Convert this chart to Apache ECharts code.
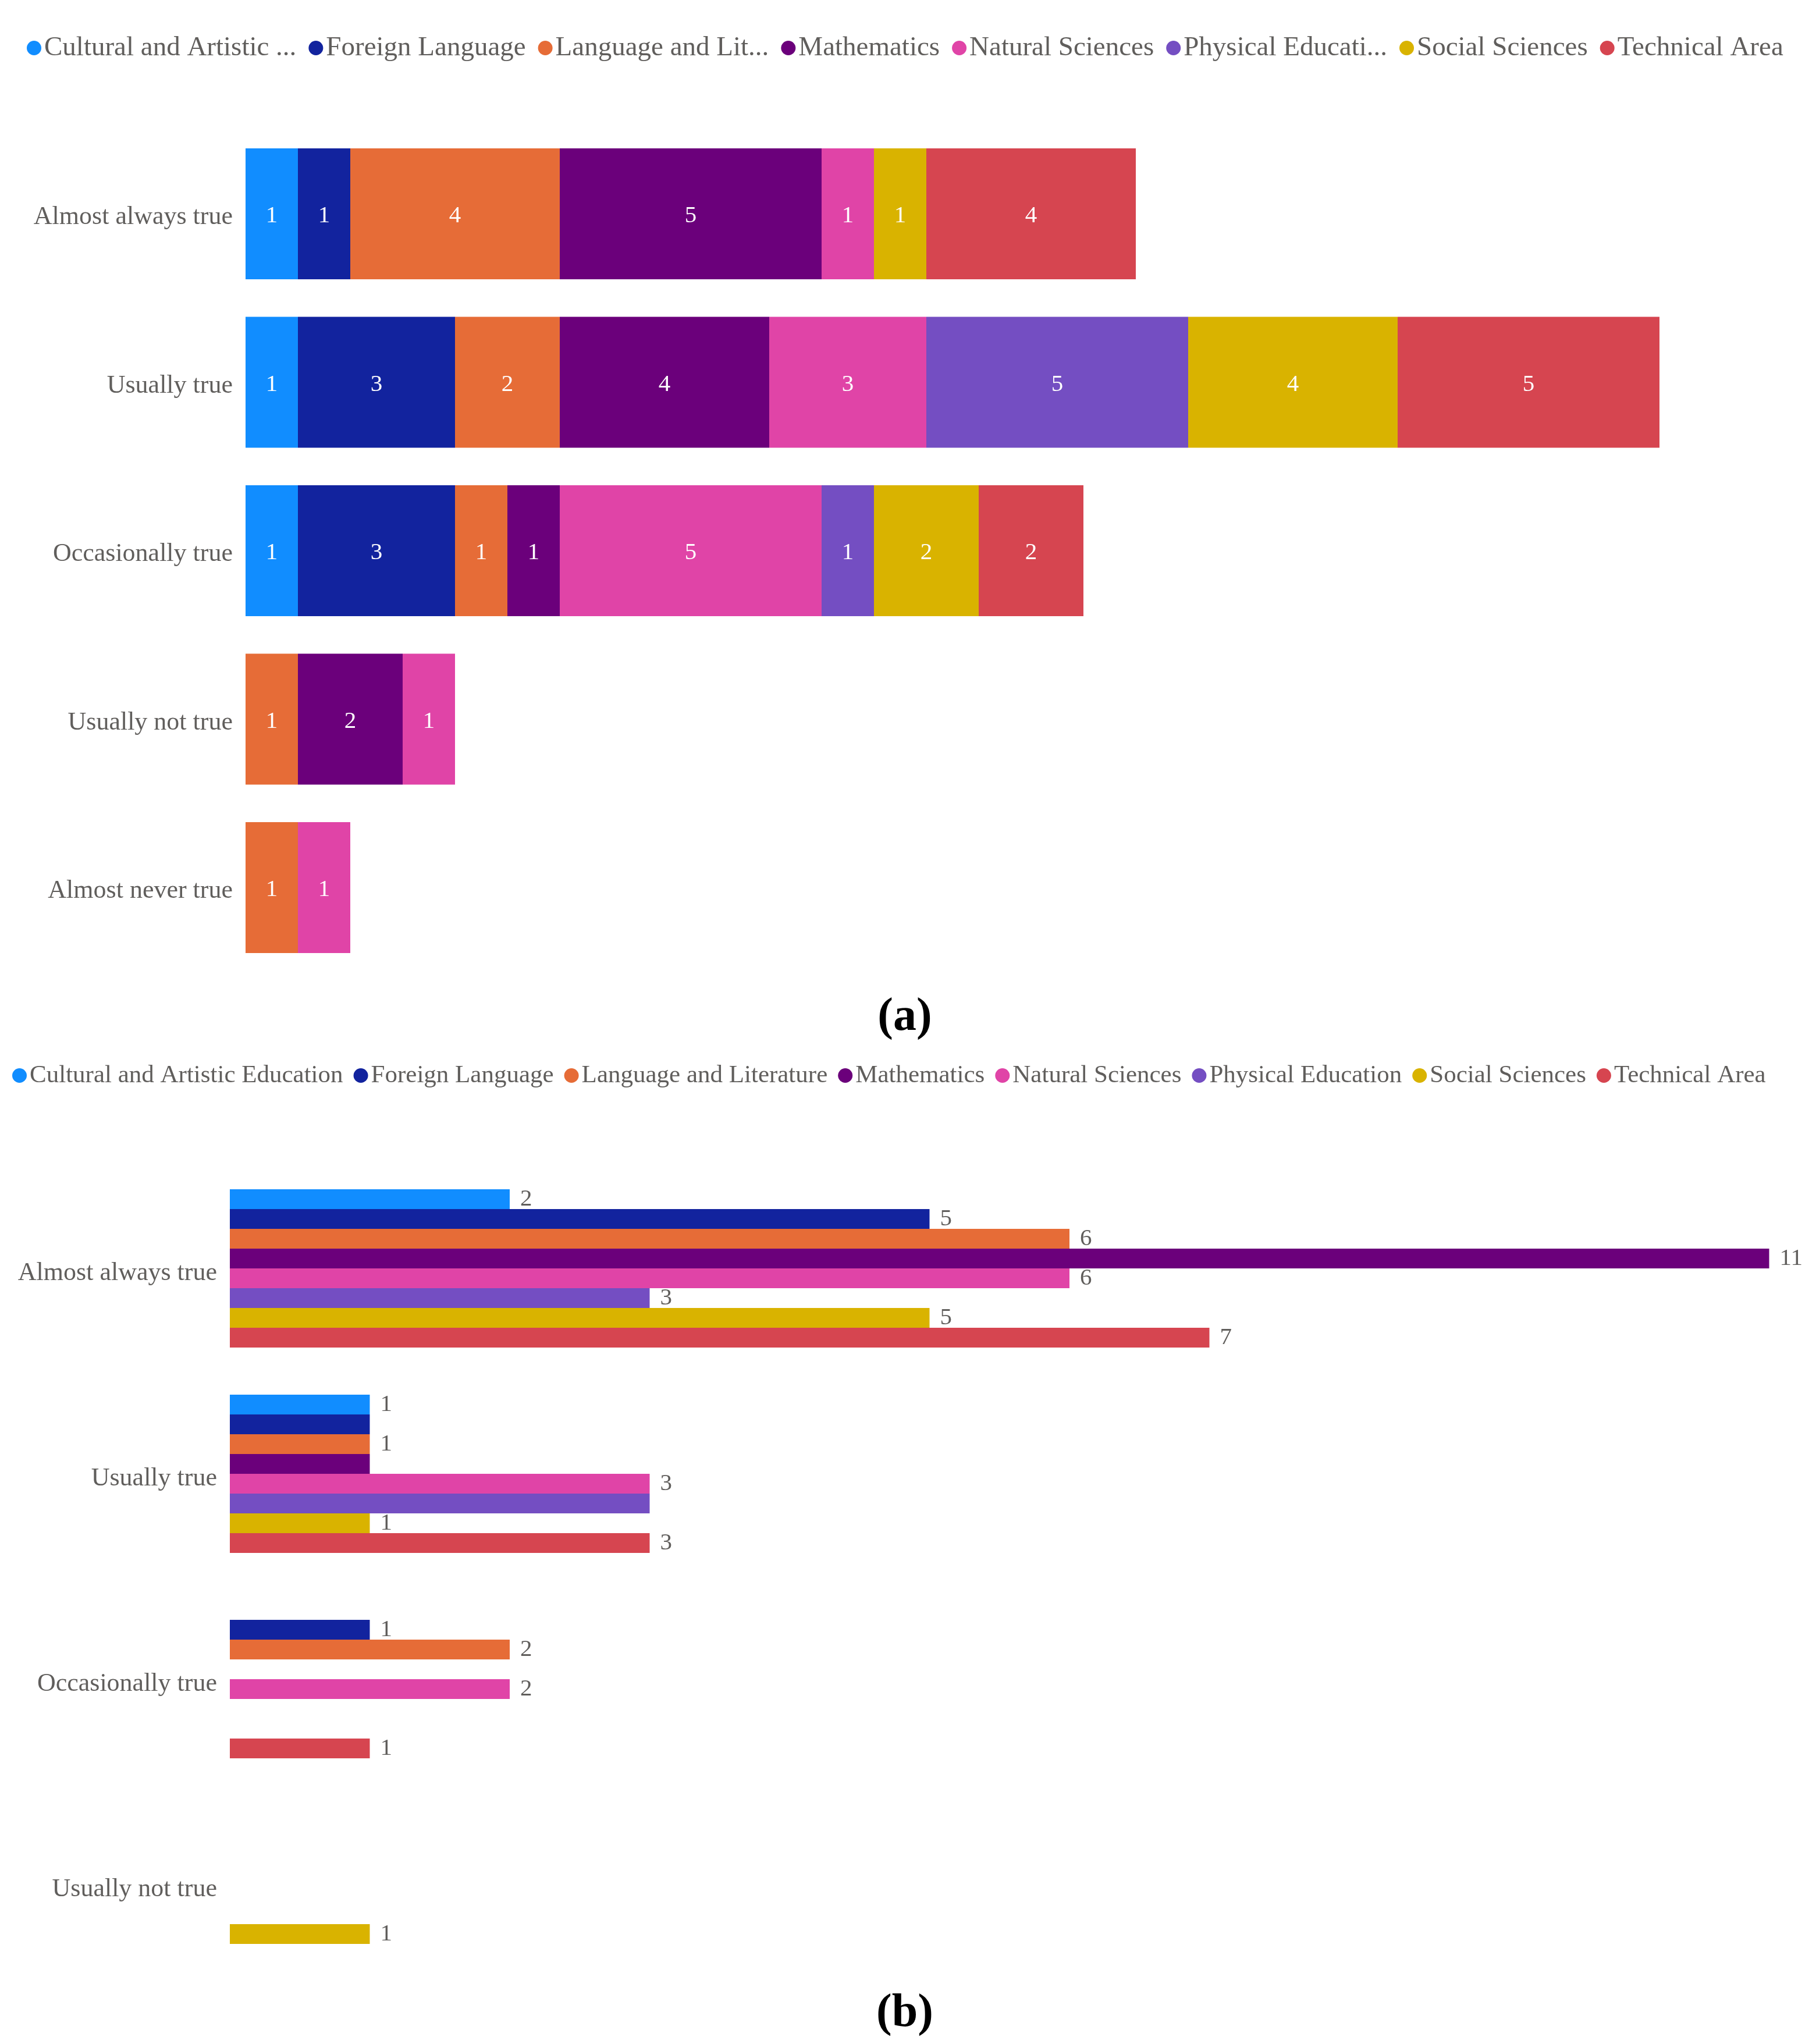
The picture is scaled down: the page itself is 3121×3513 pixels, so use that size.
<!DOCTYPE html>
<html>
<head>
<meta charset="utf-8">
<script src="https://cdn.jsdelivr.net/npm/echarts@6/dist/echarts.min.js"></script>
<style>
html,body{margin:0;padding:0;background:#fff;}
#chart{width:3121px;height:3513px;}
</style>
</head>
<body>
<div id="chart"></div>
<script>
// ---- data ----
const seriesNames = ['Cultural and Artistic Education','Foreign Language','Language and Literature','Mathematics','Natural Sciences','Physical Education','Social Sciences','Technical Area'];
const legendShortA = ['Cultural and Artistic ...','Foreign Language','Language and Lit...','Mathematics','Natural Sciences','Physical Educati...','Social Sciences','Technical Area'];
const colors = ['#118DFF','#12239E','#E66C37','#6B007B','#E044A7','#744EC2','#D9B300','#D64550'];

// chart (a): stacked
const categoriesA = ['Almost always true','Usually true','Occasionally true','Usually not true','Almost never true'];
const a_cultural  = [1, 1, 1, null, null];
const a_foreign   = [1, 3, 3, null, null];
const a_language  = [4, 2, 1, 1, 1];
const a_math      = [5, 4, 1, 2, null];
const a_natural   = [1, 3, 5, 1, 1];
const a_physical  = [null, 5, 1, null, null];
const a_social    = [1, 4, 2, null, null];
const a_technical = [4, 5, 2, null, null];

// chart (b): grouped
const categoriesB = ['Almost always true','Usually true','Occasionally true','Usually not true'];
const b_cultural  = [2, 1, null, null];
const b_foreign   = [5, 1, 1, null];
const b_language  = [6, 1, 2, null];
const b_math      = [11, 1, null, null];
const b_natural   = [6, 3, 2, null];
const b_physical  = [3, 3, null, null];
const b_social    = [5, 1, null, 1];
const b_technical = [7, 3, 1, null];

const valuesA = [a_cultural,a_foreign,a_language,a_math,a_natural,a_physical,a_social,a_technical];
const valuesB = [b_cultural,b_foreign,b_language,b_math,b_natural,b_physical,b_social,b_technical];

const FONT = 'Liberation Serif';
const GRAY = '#605E5C';

const chart = echarts.init(document.getElementById('chart'), null, {renderer:'canvas'});

const seriesA = seriesNames.map((n,i)=>({
  name:n, type:'bar', stack:'a', xAxisIndex:0, yAxisIndex:0,
  data: valuesA[i], color: colors[i],
  barCategoryGap:'22.3%',
  label:{show:true, position:'inside', color:'#fff', fontFamily:FONT, fontSize:41, offset:[0,4]},
  emphasis:{disabled:true}
}));
const seriesB = seriesNames.map((n,i)=>({
  name:n, type:'bar', xAxisIndex:1, yAxisIndex:1,
  data: valuesB[i], color: colors[i],
  barGap:'0%', barCategoryGap:'23%',
  label:{show:true, position:'right', distance:18, color:GRAY, fontFamily:FONT, fontSize:41, offset:[0,4]},
  labelLayout:{hideOverlap:true},
  emphasis:{disabled:true}
}));

function catLabel(padTop){
  return {margin:22, formatter:'{t|{value}}',
    rich:{t:{color:GRAY, fontFamily:FONT, fontSize:44, padding:[padTop,0,0,0]}}};
}

chart.setOption({
  animation:false,
  color: colors,
  textStyle:{fontFamily:FONT},
  title:[
    {text:'(a)', left:1550, top:1704, textAlign:'center', textStyle:{fontFamily:FONT, fontWeight:'bold', fontSize:80, color:'#000'}},
    {text:'(b)', left:1550, top:3416, textAlign:'center', textStyle:{fontFamily:FONT, fontWeight:'bold', fontSize:80, color:'#000'}}
  ],
  legend:[
    {data:seriesNames, left:41, top:54, icon:'circle', itemWidth:25, itemHeight:25, itemGap:21,
     formatter:(name)=>legendShortA[seriesNames.indexOf(name)],
     textStyle:{fontFamily:FONT, fontSize:47, color:GRAY}},
    {data:seriesNames, left:16, top:1822, icon:'circle', itemWidth:25, itemHeight:25, itemGap:18,
     textStyle:{fontFamily:FONT, fontSize:43, color:GRAY}}
  ],
  grid:[
    {left:422, width:2430, top:222.75, height:1447.5, containLabel:false},
    {left:395, width:2645.5, top:2003.5, height:1412, containLabel:false}
  ],
  xAxis:[
    {type:'value', gridIndex:0, min:0, max:27, show:false},
    {type:'value', gridIndex:1, min:0, max:11, show:false}
  ],
  yAxis:[
    {type:'category', gridIndex:0, data:categoriesA, inverse:true,
     axisLine:{show:false}, axisTick:{show:false}, splitLine:{show:false},
     axisLabel:catLabel(12)},
    {type:'category', gridIndex:1, data:categoriesB, inverse:true,
     axisLine:{show:false}, axisTick:{show:false}, splitLine:{show:false},
     axisLabel:catLabel(16)}
  ],
  series: seriesA.concat(seriesB)
});
</script>
</body>
</html>
